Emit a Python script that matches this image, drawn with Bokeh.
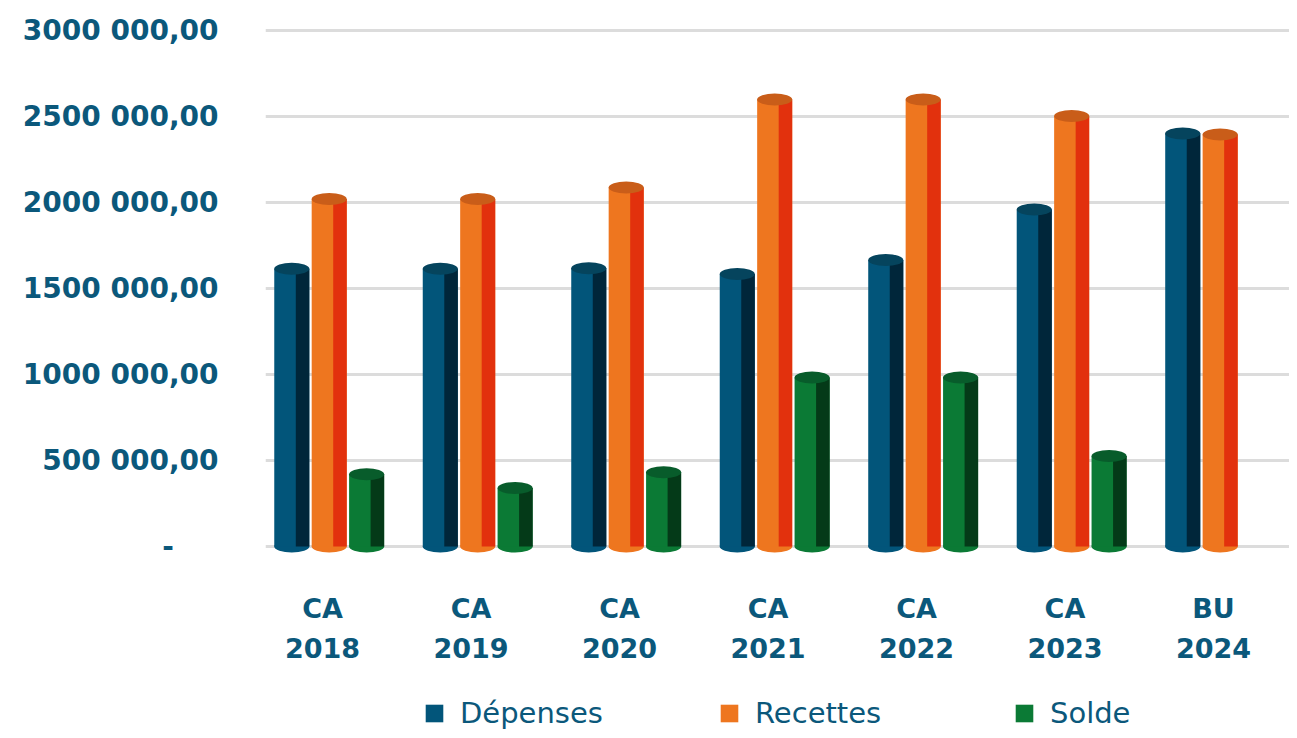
from bokeh.plotting import figure
from bokeh.models import (ColumnDataSource, FixedTicker, Range1d, Legend, LegendItem, LabelSet)
from bokeh.core.properties import value
from bokeh.embed import file_html
from bokeh.resources import INLINE

categories = ["CA 2018", "CA 2019", "CA 2020", "CA 2021", "CA 2022", "CA 2023", "BU 2024"]
depenses = [1615000, 1615000, 1618000, 1584000, 1666000, 1959000, 2401000]
recettes = [2020000, 2020000, 2087000, 2599000, 2599000, 2503000, 2395000]
solde = [420000, 340000, 432000, 983000, 983000, 526000, None]
y_ticks = [0, 500000, 1000000, 1500000, 2000000, 2500000, 3000000]
y_tick_labels = ["-", "500 000,00", "1000 000,00", "1500 000,00", "2000 000,00", "2500 000,00", "3000 000,00"]
series_names = ["Dépenses", "Recettes", "Solde"]

TEXT = "#0B587B"
colors = {
    "Dépenses": ("#02557A", "#00263A", "#05445D"),
    "Recettes": ("#EE761F", "#E2310D", "#C95D19"),
    "Solde": ("#0B7A35", "#043A18", "#085C2B"),
}
offsets = {"Dépenses": -0.207, "Recettes": 0.045, "Solde": 0.297}
BW = 0.236
SIDE_W = 0.091
SIDE_OFF = 0.0725

p = figure(width=1289, height=730, output_backend="svg", toolbar_location=None,
           x_range=Range1d(-0.384, 6.512), y_range=Range1d(-1069767, 3174419),
           min_border_left=265, min_border_right=0, min_border_top=0, min_border_bottom=0)
p.outline_line_color = None
p.background_fill_color = "white"
p.xgrid.visible = False
p.ygrid.ticker = FixedTicker(ticks=y_ticks)
p.ygrid.grid_line_color = "#DCDCDC"
p.ygrid.grid_line_width = 3
p.xaxis.visible = False

front_renderers = {}
for name, vals in zip(series_names, [depenses, recettes, solde]):
    idx = [i for i, v in enumerate(vals) if v is not None]
    xs = [i + offsets[name] for i in idx]
    tops = [vals[i] for i in idx]
    src = ColumnDataSource(dict(
        x=xs, top=tops, zero=[0] * len(xs),
        xs=[x + SIDE_OFF for x in xs],
    ))
    front, side, topc = colors[name]
    p.ellipse(x="x", y="zero", width=BW, height=12, height_units="screen",
              source=src, fill_color=front, line_color=None)
    r = p.vbar(x="x", top="top", bottom=0, width=BW, source=src,
               fill_color=front, line_color=None)
    p.vbar(x="xs", top="top", bottom=0, width=SIDE_W, source=src,
           fill_color=side, line_color=None)
    p.ellipse(x="x", y="top", width=BW, height=12, height_units="screen",
              source=src, fill_color=topc, line_color=None)
    front_renderers[name] = r

# y axis
yax = p.yaxis[0]
yax.ticker = FixedTicker(ticks=y_ticks)
ov = {}
for t, lab in zip(y_ticks, y_tick_labels):
    ov[t] = lab if lab != "-" else "-\u2007\u2007\u2009"
yax.major_label_overrides = ov
yax.axis_line_color = None
yax.major_tick_line_color = None
yax.minor_tick_line_color = None
yax.major_tick_out = 0
yax.major_tick_in = 0
yax.major_label_standoff = 47
yax.major_label_text_font = "DejaVu Sans"
yax.major_label_text_font_style = "bold"
yax.major_label_text_font_size = "28px"
yax.major_label_text_color = TEXT

# category labels (two centred lines) under each group
cat_src = ColumnDataSource(dict(
    x=list(range(len(categories))),
    line1=[c.split(" ", 1)[0] for c in categories],
    line2=[c.split(" ", 1)[1] for c in categories],
))
for col, ys in (("line1", 138), ("line2", 93)):
    p.add_layout(LabelSet(x="x", y=ys, y_units="screen", text=col, source=cat_src,
                          text_align="center", text_baseline="top",
                          text_font=value("DejaVu Sans"), text_font_style="bold",
                          text_font_size=value("27px"), text_color=TEXT))

legend = Legend(
    items=[LegendItem(label=n, renderers=[front_renderers[n]]) for n in series_names],
    orientation="horizontal", location=(158, 0),
    glyph_width=22, glyph_height=22, label_standoff=15, label_width=153, spacing=105,
    padding=0, margin=0, background_fill_alpha=0, border_line_alpha=0,
    label_text_font="DejaVu Sans", label_text_font_size="29px", label_text_color=TEXT,
)
p.add_layout(legend)

open("out.html", "w").write(file_html(p, INLINE))
